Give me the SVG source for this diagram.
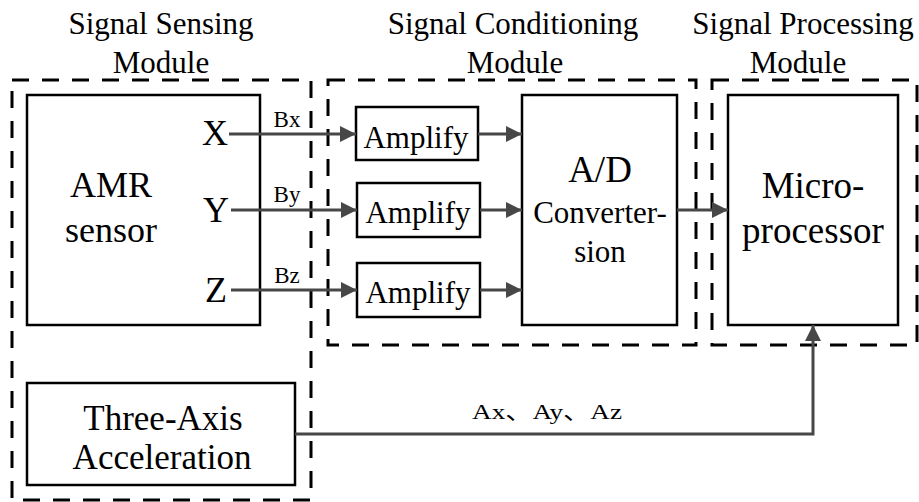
<svg xmlns="http://www.w3.org/2000/svg" width="919" height="502" viewBox="0 0 919 502">
<style>
text{font-family:"Liberation Serif","Times New Roman",serif;fill:#000;text-anchor:middle}
.mod{fill:none;stroke:#000;stroke-width:3;stroke-dasharray:17 13}
.box{fill:#fff;stroke:#000;stroke-width:2.5}
.t{font-size:31px}
.big{font-size:36px}
.acc{font-size:35px}
.amp{font-size:31px}
.lbl{font-size:23px}
.wire{fill:none;stroke:#474747;stroke-width:3}
</style>
<defs>
<marker id="ah" markerUnits="userSpaceOnUse" markerWidth="16" markerHeight="16" refX="16" refY="8" orient="auto">
<path d="M0,0 L16,8 L0,16 z" fill="#474747"/>
</marker>
</defs>
<rect width="919" height="502" fill="#fff"/>

<g id="sensing-module">
<rect class="mod" x="12" y="80" width="299" height="420"/>
<text class="t" x="161" y="34">Signal Sensing</text>
<text class="t" x="161" y="73">Module</text>
</g>
<g id="conditioning-module">
<rect class="mod" x="328" y="80" width="368" height="265"/>
<text class="t" x="513" y="34">Signal Conditioning</text>
<text class="t" x="515" y="73">Module</text>
</g>
<g id="processing-module">
<rect class="mod" x="712" y="80" width="205" height="265"/>
<text class="t" x="803" y="34">Signal Processing</text>
<text class="t" x="798" y="73">Module</text>
</g>

<g id="amr-sensor">
<rect class="box" x="27" y="95" width="233" height="230"/>
<text class="big" x="111" y="197">AMR</text>
<text class="big" x="111" y="242">sensor</text>
<text class="big" x="215" y="145">X</text>
<text class="big" x="216" y="222">Y</text>
<text class="big" x="216" y="302">Z</text>
</g>

<g id="amplify-x">
<rect class="box" x="356" y="107" width="122" height="53"/>
<text class="amp" x="416" y="148">Amplify</text>
</g>
<g id="amplify-y">
<rect class="box" x="357" y="183" width="123" height="54"/>
<text class="amp" x="418" y="223">Amplify</text>
</g>
<g id="amplify-z">
<rect class="box" x="357" y="263" width="123" height="54"/>
<text class="amp" x="418" y="303">Amplify</text>
</g>

<g id="ad-converter">
<rect class="box" x="522" y="95" width="155" height="230"/>
<text style="font-size:37px" x="600" y="182">A/D</text>
<text class="amp" x="600" y="223">Converter-</text>
<text class="amp" x="600" y="262">sion</text>
</g>

<g id="microprocessor">
<rect class="box" x="728" y="95" width="170" height="230"/>
<text style="font-size:37px" x="813" y="198">Micro-</text>
<text style="font-size:37px" x="813" y="243">processor</text>
</g>

<g id="three-axis-acceleration">
<rect class="box" x="27" y="383" width="268" height="102"/>
<text class="acc" x="163" y="430">Three-Axis</text>
<text class="acc" x="162" y="469">Acceleration</text>
</g>

<g id="connectors">
<line class="wire" x1="229" y1="134" x2="356" y2="134" marker-end="url(#ah)"/>
<line class="wire" x1="231" y1="210" x2="357" y2="210" marker-end="url(#ah)"/>
<line class="wire" x1="231" y1="290" x2="357" y2="290" marker-end="url(#ah)"/>
<line class="wire" x1="478" y1="134" x2="522" y2="134" marker-end="url(#ah)"/>
<line class="wire" x1="480" y1="210" x2="522" y2="210" marker-end="url(#ah)"/>
<line class="wire" x1="480" y1="290" x2="522" y2="290" marker-end="url(#ah)"/>
<line class="wire" x1="677" y1="210" x2="728" y2="210" marker-end="url(#ah)"/>
<polyline class="wire" points="295,434 813,434 813,325" marker-end="url(#ah)"/>
<text class="lbl" x="287" y="127">Bx</text>
<text class="lbl" x="287" y="202">By</text>
<text class="lbl" x="287" y="283">Bz</text>
<text style="font-size:22px;font-family:'Liberation Serif','Noto Sans CJK SC',serif" x="547" y="419" textLength="150" lengthAdjust="spacingAndGlyphs">Ax、Ay、Az</text>
</g>
</svg>
